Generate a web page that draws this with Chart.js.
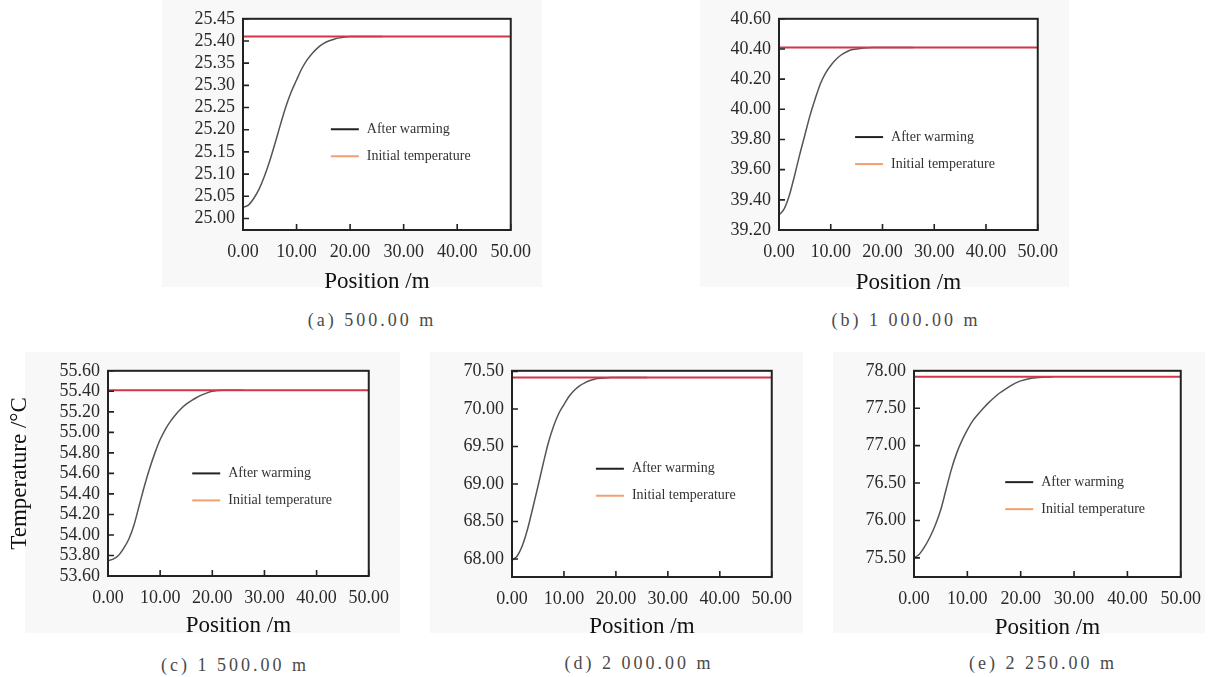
<!DOCTYPE html>
<html>
<head>
<meta charset="utf-8">
<script src="https://cdn.jsdelivr.net/npm/chart.js@4"></script>
<style>
  body { margin: 0; background: #fff; width: 1212px; height: 677px; position: relative; overflow: hidden; }
  .bg { position: absolute; background: #f8f8f8; }
  canvas { position: absolute; }
  .cap { position: absolute; width: 240px; margin-left: -120px; text-align: center;
         font-family: "Liberation Serif", serif; font-size: 18px; letter-spacing: 3px; color: #4a4a4a; line-height: 20px; }
</style>
</head>
<body>
<div class="bg" style="left:162px;top:0;width:380px;height:287px"></div>
<div class="bg" style="left:700px;top:0;width:369px;height:287px"></div>
<div class="bg" style="left:25px;top:352px;width:375px;height:281px"></div>
<div class="bg" style="left:430px;top:352px;width:373px;height:281px"></div>
<div class="bg" style="left:833px;top:352px;width:372px;height:281px"></div>

<canvas id="cA" width="380" height="300" style="left:162px;top:0"></canvas>
<canvas id="cB" width="369" height="300" style="left:700px;top:0"></canvas>
<canvas id="cC" width="400" height="290" style="left:0;top:352px"></canvas>
<canvas id="cD" width="373" height="290" style="left:430px;top:352px"></canvas>
<canvas id="cE" width="379" height="290" style="left:833px;top:352px"></canvas>

<div class="cap" style="left:372px;top:310px">(a) 500.00 m</div>
<div class="cap" style="left:906px;top:310px">(b) 1 000.00 m</div>
<div class="cap" style="left:235px;top:655px">(c) 1 500.00 m</div>
<div class="cap" style="left:639px;top:653px">(d) 2 000.00 m</div>
<div class="cap" style="left:1043px;top:653px">(e) 2 250.00 m</div>

<script>
// positions along the section (m)
var position = [0,1,2,3,4,5,6,7,8,9,10,11,12,13,14,15,16,17,18,19,20,22,24,26];

// temperature after warming, one list per depth
var warm500  = [25.025,25.030,25.045,25.066,25.095,25.130,25.170,25.212,25.252,25.285,25.312,25.338,25.358,25.373,25.385,25.394,25.400,25.404,25.407,25.409,25.410,25.410,25.410,25.410];
var warm1000 = [39.30,39.34,39.43,39.56,39.70,39.83,39.96,40.07,40.17,40.24,40.29,40.33,40.36,40.38,40.395,40.40,40.405,40.408,40.41,40.41,40.41,40.41,40.41,40.41];
var warm1500 = [53.75,53.765,53.80,53.87,53.96,54.10,54.29,54.48,54.65,54.80,54.93,55.03,55.11,55.175,55.23,55.275,55.31,55.34,55.365,55.385,55.40,55.41,55.41,55.41];
var warm2000 = [67.98,68.04,68.18,68.40,68.68,68.97,69.27,69.55,69.77,69.94,70.06,70.17,70.25,70.31,70.35,70.38,70.40,70.41,70.415,70.42,70.42,70.42,70.42,70.42];
var warm2250 = [75.50,75.55,75.65,75.78,75.94,76.14,76.41,76.68,76.90,77.07,77.21,77.33,77.42,77.50,77.575,77.64,77.70,77.75,77.795,77.835,77.865,77.90,77.915,77.92];

// initial temperature at each depth
var initTemp = [25.41, 40.41, 55.41, 70.42, 77.92];

// axis ticks
var xTicks = [0,10,20,30,40,50];
var yTicks500  = [25.00,25.05,25.10,25.15,25.20,25.25,25.30,25.35,25.40,25.45];
var yTicks1000 = [39.20,39.40,39.60,39.80,40.00,40.20,40.40,40.60];
var yTicks1500 = [53.60,53.80,54.00,54.20,54.40,54.60,54.80,55.00,55.20,55.40,55.60];
var yTicks2000 = [68.00,68.50,69.00,69.50,70.00,70.50];
var yTicks2250 = [75.50,76.00,76.50,77.00,77.50,78.00];

var seriesNames = ["After warming", "Initial temperature"];

var serif = "'Liberation Serif', 'Times New Roman', serif";

// white plot area, black frame, inward ticks, legend inside plot
var framePlugin = {
  id: 'frame',
  beforeDraw: function(chart) {
    var a = chart.chartArea, ctx = chart.ctx;
    ctx.save();
    ctx.fillStyle = '#ffffff';
    ctx.fillRect(a.left, a.top, a.right - a.left, a.bottom - a.top);
    ctx.restore();
  },
  afterDraw: function(chart) {
    var a = chart.chartArea, ctx = chart.ctx;
    var xs = chart.scales.x, ys = chart.scales.y;
    ctx.save();
    ctx.strokeStyle = '#222';
    ctx.lineWidth = 1.6;
    ctx.beginPath();
    xs.ticks.forEach(function(t) {
      var px = xs.getPixelForValue(t.value);
      ctx.moveTo(px, a.bottom); ctx.lineTo(px, a.bottom - 6);
    });
    ys.ticks.forEach(function(t) {
      var py = ys.getPixelForValue(t.value);
      ctx.moveTo(a.left, py); ctx.lineTo(a.left + 6, py);
    });
    ctx.stroke();
    ctx.lineWidth = 2;
    ctx.strokeRect(a.left, a.top, a.right - a.left, a.bottom - a.top);

    // legend
    var lg = chart.options.plugins.frame;
    var lx = a.left + lg.x * (a.right - a.left);
    var ly = a.top + lg.y * (a.bottom - a.top);
    ctx.font = '14px ' + serif;
    ctx.textBaseline = 'middle';
    ctx.textAlign = 'left';
    chart.data.datasets.forEach(function(ds, i) {
      var y = ly + i * 27;
      ctx.strokeStyle = ds.legendColor;
      ctx.lineWidth = 2;
      ctx.beginPath();
      ctx.moveTo(lx, y); ctx.lineTo(lx + 28, y);
      ctx.stroke();
      ctx.fillStyle = '#333';
      ctx.fillText(ds.label, lx + 36, y);
    });
    ctx.restore();
  }
};

function makeChart(id, warm, init, yTicks, yMin, yMax, lay) {
  var pts = position.map(function(p, i) { return {x: p, y: warm[i]}; });
  var flat = [{x: xTicks[0], y: init}, {x: xTicks[xTicks.length - 1], y: init}];
  return new Chart(document.getElementById(id), {
    type: 'line',
    data: {
      datasets: [
        {
          label: seriesNames[0],
          data: pts,
          borderColor: '#555',
          legendColor: '#222',
          borderWidth: 1.5,
          pointRadius: 0,
          cubicInterpolationMode: 'monotone',
          fill: false,
          order: 1
        },
        {
          label: seriesNames[1],
          data: flat,
          borderColor: '#d2344a',
          legendColor: '#f0a070',
          borderWidth: 2,
          pointRadius: 0,
          fill: false,
          order: 0
        }
      ]
    },
    options: {
      responsive: false,
      animation: false,
      devicePixelRatio: 1,
      layout: { padding: { left: 0, top: lay.top, right: lay.right, bottom: 0 } },
      plugins: {
        legend: { display: false },
        tooltip: { enabled: false },
        frame: { x: lay.lx, y: lay.ly }
      },
      scales: {
        x: {
          type: 'linear',
          min: xTicks[0],
          max: xTicks[xTicks.length - 1],
          grid: { display: false, drawTicks: false },
          border: { display: false },
          afterBuildTicks: function(s) { s.ticks = xTicks.map(function(v) { return {value: v}; }); },
          afterFit: function(s) { s.height = lay.xh; },
          ticks: {
            autoSkip: false, maxRotation: 0, padding: 11,
            color: '#2a2a2a', font: { family: serif, size: 18 },
            callback: function(v) { return Number(v).toFixed(2); }
          },
          title: {
            display: true, text: 'Position /m', color: '#111',
            font: { family: serif, size: 23 },
            padding: { top: 0, bottom: lay.tb }
          }
        },
        y: {
          min: yMin,
          max: yMax,
          grid: { display: false, drawTicks: false },
          border: { display: false },
          afterBuildTicks: function(s) { s.ticks = yTicks.map(function(v) { return {value: v}; }); },
          afterFit: function(s) { s.width = lay.yw; },
          ticks: {
            autoSkip: false, padding: 8,
            color: '#2a2a2a', font: { family: serif, size: 18 },
            callback: function(v) { return Number(v).toFixed(2); }
          },
          title: {
            display: !!lay.ytitle, text: lay.ytitle || '', color: '#111',
            font: { family: serif, size: 23 },
            padding: { top: 6, bottom: 0 }
          }
        }
      }
    },
    plugins: [framePlugin]
  });
}

makeChart('cA', warm500,  initTemp[0], yTicks500,  24.974, 25.45, {top: 14, right: 28, xh: 70, yw: 81, tb: 4, lx: 0.328, ly: 0.523});
makeChart('cB', warm1000, initTemp[1], yTicks1000, 39.20, 40.60,  {top: 14, right: 21, xh: 70, yw: 79, tb: 3, lx: 0.294, ly: 0.56});
makeChart('cC', warm1500, initTemp[2], yTicks1500, 53.60, 55.60,  {top: 8, right: 23, xh: 66, yw: 108, tb: 2, lx: 0.323, ly: 0.50, ytitle: 'Temperature /°C'});
makeChart('cD', warm2000, initTemp[3], yTicks2000, 67.76, 70.51,  {top: 8, right: 22, xh: 65, yw: 82, tb: 1, lx: 0.323, ly: 0.475});
makeChart('cE', warm2250, initTemp[4], yTicks2250, 75.245, 78.00, {top: 9, right: 29, xh: 65, yw: 81, tb: 0, lx: 0.342, ly: 0.54});
</script>
</body>
</html>
